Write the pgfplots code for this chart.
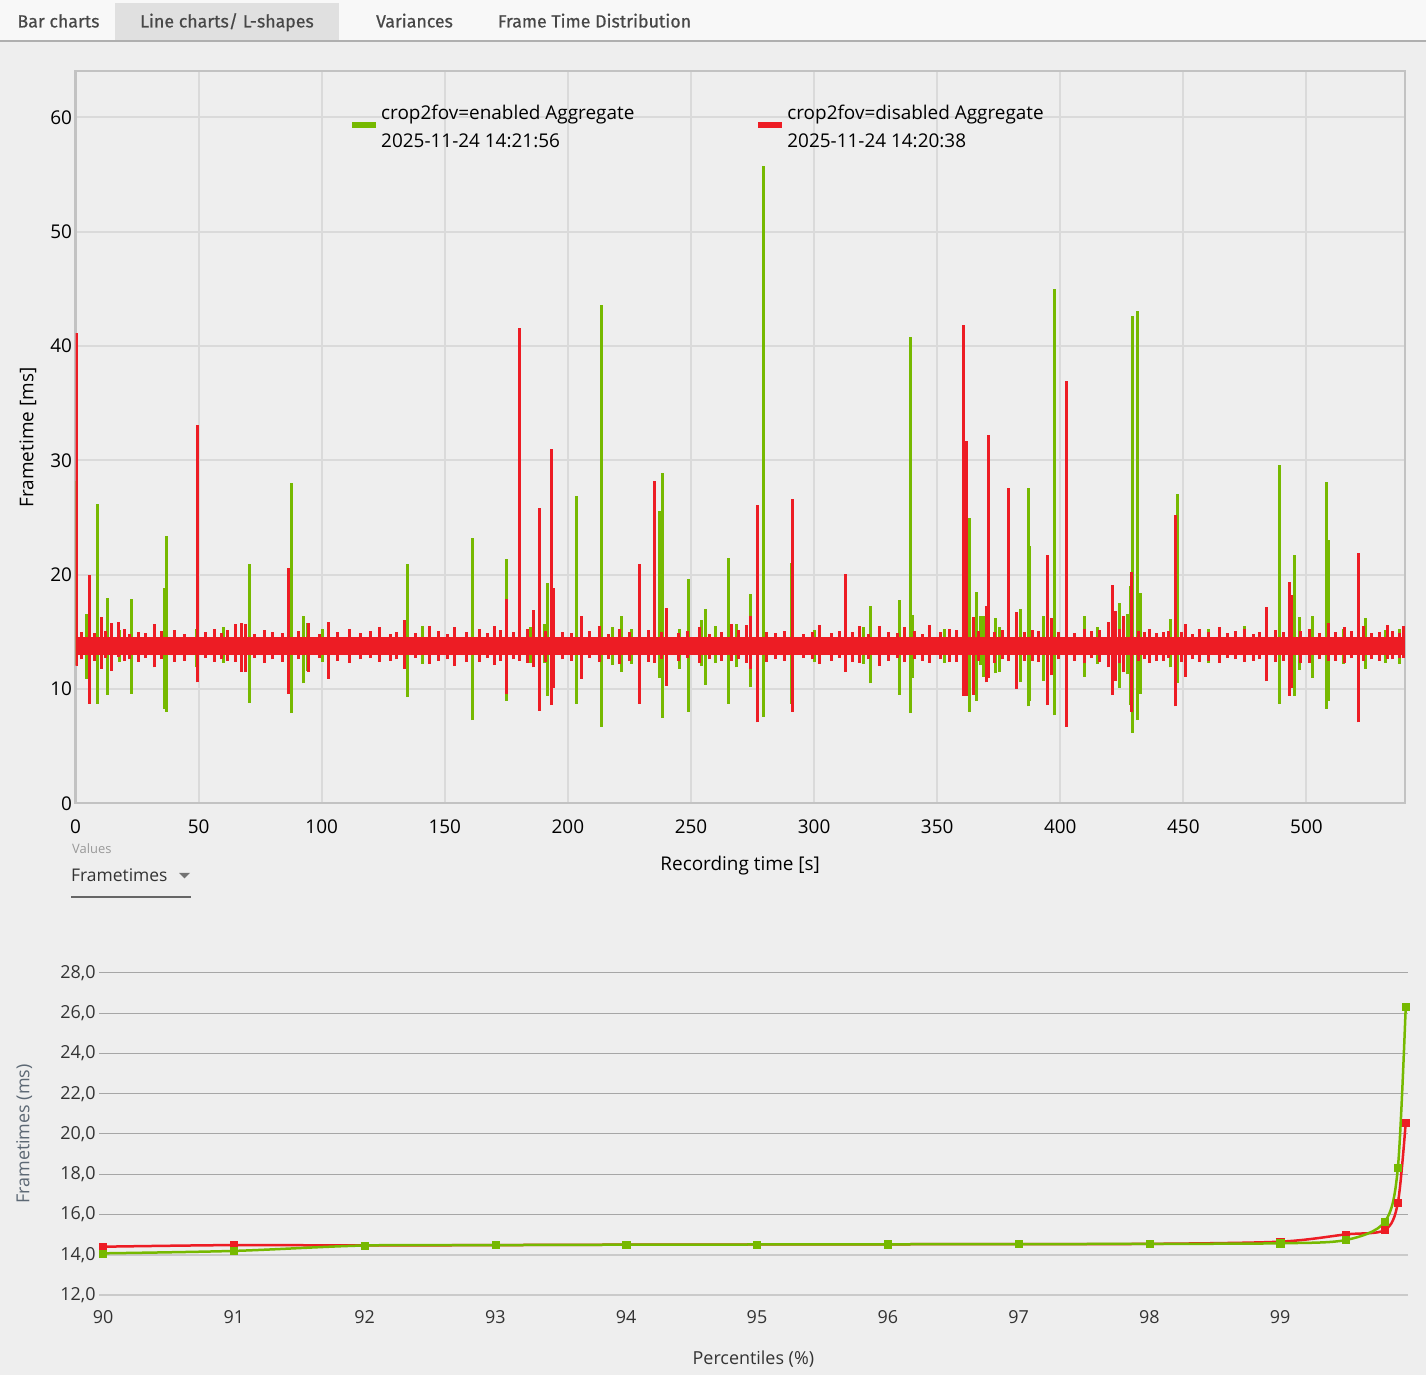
\documentclass[border=0pt]{standalone}
\usepackage{pgfplots}
\pgfplotsset{compat=1.18}
\usepackage{pgfplotstable}
\usepackage{fontspec}
\setmainfont{Open Sans}
\newfontfamily\tabfont[FakeBold=0.5]{Fira Sans}
\definecolor{bgc}{HTML}{EEEEEE}
\definecolor{tabbar}{HTML}{F8F8F8}
\definecolor{tabsel}{HTML}{E0E0E0}
\definecolor{tabline}{HTML}{AFAFAF}
\definecolor{tabtext}{HTML}{474747}
\definecolor{cgreen}{HTML}{76B900}
\definecolor{cred}{HTML}{ED1C24}
\definecolor{gridc}{HTML}{DADADA}
\definecolor{framec}{HTML}{C2C2C2}
\definecolor{gridb}{HTML}{A6A6A6}
\definecolor{gridl}{HTML}{CACACA}
\definecolor{txtb}{HTML}{333333}
\definecolor{ylabc}{HTML}{5C6874}

% red spikes: x hi lo
\pgfplotstableread{
x hi lo
0.41 41.1 12.0
5.69 20.0 8.7
10.56 16.3 11.8
14.62 15.8 11.6
17.47 15.9 12.8
19.9 15.3 12.5
32.09 15.7 11.9
40.2 15.2 12.4
49.55 33.1 10.6
56.5 15.3 12.4
64.99 15.7 12.4
67.43 15.8 11.5
69.05 15.7 11.5
76.8 15.2 12.3
86.52 20.6 9.6
94.64 15.8 11.5
102.8 15.9 10.9
111.3 15.3 12.3
123.5 15.4 12.4
133.6 16.0 11.8
143.8 15.5 12.2
153.9 15.4 12.0
164.1 15.3 12.4
170.2 15.5 12.1
175.1 17.9 9.6
180.3 41.6 12.5
186.0 16.9 11.9
188.5 25.8 8.1
193.3 31.0 8.6
194.2 18.8 10.1
205.5 16.4 10.9
212.8 15.5 12.4
221.0 15.3 12.2
229.1 20.9 8.7
235.2 28.2 12.3
240.1 17.1 10.3
253.5 15.4 12.3
266.5 15.7 12.5
272.5 15.6 12.3
274.2 16.4 11.8
277.0 26.1 7.1
291.2 26.6 8.0
302.2 15.6 12.2
312.8 20.1 11.5
318.4 15.5 12.3
326.6 15.5 12.0
336.7 15.4 12.4
346.9 15.6 12.3
355.0 15.3 12.4
360.7 41.8 9.4
361.9 31.7 9.4
364.7 16.3 9.5
370.0 17.3 10.6
370.8 32.2 11.0
379.0 27.6 12.5
382.2 16.7 10.0
388.7 15.2 12.5
394.8 21.7 8.6
396.4 16.2 11.2
402.5 36.9 6.7
409.8 15.3 12.3
419.6 15.9 11.9
421.2 19.1 9.5
422.4 16.8 10.7
425.7 16.4 11.5
428.9 20.2 8.0
436.2 15.3 12.3
441.9 15.0 12.5
446.8 25.2 8.5
450.9 15.7 11.1
456.5 15.3 12.4
464.7 15.4 12.3
474.8 15.3 12.4
483.8 17.2 10.7
493.1 19.4 9.4
493.9 18.2 10.1
501.2 15.3 12.3
508.9 15.8 12.5
515.4 15.4 12.3
521.1 21.9 7.1
523.2 15.5 12.5
532.9 15.6 12.6
539.4 15.5 12.7
}\redspikes

\pgfplotstableread{
x hi lo
2.5 15.0 12.6
7.9 14.9 12.5
12.3 15.1 12.7
21.8 14.8 12.6
25.6 15.0 12.4
28.4 14.9 12.7
35.0 15.1 12.6
44.2 14.8 12.5
52.7 15.0 12.7
59.3 14.9 12.6
61.8 15.2 12.5
72.6 14.8 12.7
80.1 15.0 12.6
83.9 14.9 12.4
90.7 15.1 12.6
99.2 14.8 12.7
106.4 15.0 12.5
115.8 14.9 12.6
119.7 15.1 12.7
127.9 14.8 12.5
130.5 15.0 12.6
138.2 14.9 12.7
147.6 15.1 12.5
151.0 14.8 12.6
158.9 15.0 12.4
167.3 14.9 12.7
172.8 15.2 12.5
178.1 15.0 12.6
183.6 15.3 12.3
190.9 15.1 12.4
197.7 15.0 12.6
201.4 14.9 12.5
208.6 15.1 12.7
216.3 14.8 12.6
225.1 15.0 12.5
232.7 15.2 12.4
238.0 15.0 12.6
244.9 14.9 12.5
248.4 15.1 12.7
257.6 14.8 12.6
262.3 15.0 12.5
269.4 15.2 12.6
280.8 15.0 12.4
284.5 14.9 12.6
288.0 15.1 12.5
295.7 14.8 12.7
299.3 15.0 12.6
306.9 14.9 12.5
310.2 15.1 12.7
315.6 15.0 12.4
322.1 14.8 12.6
330.4 15.0 12.5
333.9 14.9 12.7
340.6 15.1 12.6
344.2 14.8 12.5
351.3 15.0 12.6
357.8 15.2 12.4
366.9 15.1 12.5
373.2 15.0 12.3
376.5 15.2 12.6
385.4 15.0 12.5
391.0 15.1 12.4
399.3 15.0 12.6
405.8 14.9 12.5
412.5 15.1 12.7
416.1 15.2 12.4
424.0 15.3 12.3
431.8 15.1 12.5
434.4 15.0 12.6
439.1 14.9 12.5
444.0 15.1 12.7
449.2 15.0 12.4
453.8 14.8 12.6
460.2 15.0 12.5
467.9 14.9 12.7
471.3 15.1 12.6
478.6 14.8 12.5
481.0 15.0 12.6
487.4 15.2 12.4
490.8 15.0 12.5
497.5 15.1 12.3
505.3 14.9 12.6
511.8 15.0 12.5
518.2 15.1 12.7
526.4 14.9 12.6
529.7 15.0 12.5
535.1 15.1 12.6
537.6 14.9 12.7
}\rednoise

\pgfplotstableread{
x hi lo
0.3 28.2 12.1
4.5 16.6 10.9
8.9 26.2 8.7
13.0 18.0 9.5
18.0 15.2 12.4
22.7 17.9 9.6
36.2 18.8 8.3
37.0 23.4 8.0
49.1 15.3 11.9
60.0 15.4 12.3
70.7 20.9 8.8
87.7 28.0 7.9
92.6 16.4 10.5
94.2 15.8 11.6
100.5 15.3 12.4
134.9 20.9 9.3
141.0 15.5 12.2
161.3 23.2 7.3
175.1 21.4 9.0
185.0 15.4 12.3
190.5 15.7 12.3
191.7 19.3 9.4
203.5 26.9 8.7
213.6 43.6 6.7
218.1 15.4 12.1
221.8 16.4 11.5
226.0 15.3 12.2
237.3 25.6 11.0
238.4 28.9 7.5
245.3 15.3 11.8
249.0 19.6 8.0
254.3 16.0 12.0
255.9 17.0 10.4
260.0 15.5 12.3
265.2 21.5 8.7
268.5 15.7 11.9
274.2 18.3 10.2
279.5 55.7 7.6
290.8 21.0 8.7
300.0 15.2 12.4
320.0 15.4 12.2
322.9 17.3 10.5
334.7 17.8 9.5
339.2 40.8 7.9
340.0 16.5 11.0
353.0 15.3 12.3
363.1 25.0 8.0
366.0 18.5 9.0
367.6 16.4 12.1
368.8 16.4 11.1
373.7 16.2 11.4
375.3 15.4 11.5
383.8 17.0 10.6
387.1 27.6 8.5
387.5 22.5 9.0
393.2 16.4 10.7
397.7 45.0 7.7
409.8 16.4 11.1
415.0 15.4 12.2
424.1 17.5 10.1
427.3 16.6 11.3
428.5 19.0 8.6
429.3 42.6 6.2
431.4 43.1 7.3
432.6 18.4 9.6
444.8 16.1 11.9
447.6 27.1 10.5
460.0 15.3 12.3
475.0 15.5 12.4
489.1 29.6 8.7
495.1 21.7 9.4
497.2 16.3 11.7
502.5 16.4 11.0
508.1 28.1 8.3
508.9 23.0 9.0
515.0 15.3 12.2
524.0 16.2 11.8
532.0 15.2 12.3
537.8 15.3 12.2
}\greenspikes

\begin{document}
\begin{tikzpicture}
\useasboundingbox (0,0) rectangle (1426bp,1375bp);
\fill[bgc] (0,0) rectangle (1426bp,1375bp);
% tab bar
\fill[tabbar] (0,1334bp) rectangle (1426bp,1375bp);
\fill[tabsel] (115bp,1334bp) rectangle (339bp,1372bp);
\draw[tabline, line width=1.2bp] (0,1334bp) -- (1426bp,1334bp);
\begin{scope}[every node/.style={anchor=base, inner sep=0pt, text=tabtext, font=\tabfont\fontsize{17.8}{20}\selectfont}]
\node at (58.5bp,1347.5bp) {Bar charts};
\node at (227bp,1347.5bp) {Line charts/ L-shapes};
\node at (414.5bp,1347.5bp) {Variances};
\node at (594.5bp,1347.5bp) {Frame Time Distribution};
\end{scope}

% top chart
\begin{axis}[
  at={(75.5bp,571.5bp)}, anchor=south west, scale only axis,
  width=1329.5bp, height=732bp,
  xmin=0, xmax=540, ymin=0, ymax=64,
  xtick={0,50,...,500}, ytick={0,10,...,60},
  grid=major, major grid style={line width=2bp, color=gridc},
  axis line style={line width=2bp, color=framec},
  major tick length=0pt,
  tick label style={font=\fontsize{19}{23}\selectfont, text=black},
  /pgf/number format/assume math mode=true,
  xticklabel style={yshift=-13bp},
  xlabel={Recording time [s]}, ylabel={Frametime [ms]},
  label style={font=\fontsize{19}{23}\selectfont, text=black},
  xlabel style={at={(axis description cs:0.5,-0.085)}, anchor=center},
  ylabel style={at={(axis description cs:-0.0357,0.5)}, anchor=center},
  legend style={at={(axis description cs:0.208,0.9378)}, anchor=west,
    draw=none, fill=none, inner sep=0pt, legend columns=2,
    font=\fontsize{19}{28}\selectfont,
    /tikz/every even column/.append style={column sep=122bp},
    cells={anchor=west}},
  legend image code/.code={\fill[#1] (0bp,-11bp) rectangle (24bp,-5bp); \path[draw=none,fill=none] (0bp,-8bp) -- (27bp,-8bp);},
]
% green series
\addplot[forget plot, cgreen, line width=17bp] coordinates {(0,13.75) (540,13.75)};
\addplot[forget plot, draw=none, mark=none, error bars/.cd, y dir=plus, y explicit, error mark=none,
  error bar style={line width=3bp, cgreen}]
  table[x=x, y=lo, y error plus expr=\thisrow{hi}-\thisrow{lo}] {\greenspikes};
% red series
\addplot[forget plot, cred, line width=18.3bp] coordinates {(0,13.75) (540,13.75)};
\addplot[forget plot, draw=none, mark=none, error bars/.cd, y dir=plus, y explicit, error mark=none,
  error bar style={line width=3bp, cred}]
  table[x=x, y=lo, y error plus expr=\thisrow{hi}-\thisrow{lo}] {\rednoise};
\addplot[forget plot, draw=none, mark=none, error bars/.cd, y dir=plus, y explicit, error mark=none,
  error bar style={line width=3bp, cred}]
  table[x=x, y=lo, y error plus expr=\thisrow{hi}-\thisrow{lo}] {\redspikes};
\addlegendimage{fill=cgreen, draw=none}
\addlegendentry{\begin{tabular}{@{}l@{}}crop2fov=enabled Aggregate\\2025-11-24 14:21:56\end{tabular}}
\addlegendimage{fill=cred, draw=none}
\addlegendentry{\begin{tabular}{@{}l@{}}crop2fov=disabled Aggregate\\2025-11-24 14:20:38\end{tabular}}
\end{axis}

% values dropdown
\node[anchor=base west, inner sep=0pt, text=black!40, font=\fontsize{13}{15}\selectfont] at (72bp,521.7bp) {Values};
\node[anchor=base west, inner sep=0pt, text=txtb, font=\fontsize{17.5}{20}\selectfont] at (71bp,493.3bp) {Frametimes};
\fill[black!55] (179bp,502bp) -- (190bp,502bp) -- (184.5bp,496.5bp) -- cycle;
\draw[black!60, line width=2bp] (71bp,478bp) -- (191bp,478bp);

% bottom chart
\begin{axis}[
  at={(99.1bp,80bp)}, anchor=south west, scale only axis,
  width=1308.6bp, height=322bp,
  xmin=89.97, xmax=99.975, ymin=12, ymax=28,
  xtick={90,...,99},
  ytick={16,18,...,28},
  yticklabels={{16,0},{18,0},{20,0},{22,0},{24,0},{26,0},{28,0}},
  extra y ticks={12,14},
  extra y tick labels={{12,0},{14,0}},
  extra y tick style={ymajorgrids=true, major grid style={line width=2bp, color=gridl}},
  ymajorgrids=true, major grid style={line width=1bp, color=gridb},
  axis line style={draw=none}, major tick length=0pt,
  tick label style={font=\fontsize{18}{22}\selectfont, text=txtb},
  /pgf/number format/assume math mode=true,
  xticklabel style={yshift=-12bp},
  xlabel={Percentiles (\%)}, ylabel={Frametimes (ms)},
  label style={font=\fontsize{18}{22}\selectfont},
  xlabel style={at={(axis description cs:0.5,-0.2)}, anchor=center, text=txtb},
  ylabel style={at={(axis description cs:-0.0573,0.5)}, anchor=center, text=ylabc},
  clip=false,
]
\addplot[smooth, cred, line width=2.5bp, mark=square*, mark size=3.6bp, mark options={line width=0.4bp}]
coordinates {(90,14.40) (91,14.48) (92,14.46) (93,14.48) (94,14.50) (95,14.51) (96,14.52) (97,14.53) (98,14.54) (99,14.65) (99.5,15.01) (99.8,15.23) (99.9,16.59) (99.96,20.58)};
\addplot[smooth, cgreen, line width=2.5bp, mark=square*, mark size=3.6bp, mark options={line width=0.4bp}]
coordinates {(90,14.07) (91,14.19) (92,14.46) (93,14.48) (94,14.50) (95,14.51) (96,14.52) (97,14.53) (98,14.54) (99,14.57) (99.5,14.73) (99.8,15.64) (99.9,18.33) (99.96,26.33)};
\end{axis}
\end{tikzpicture}
\end{document}
